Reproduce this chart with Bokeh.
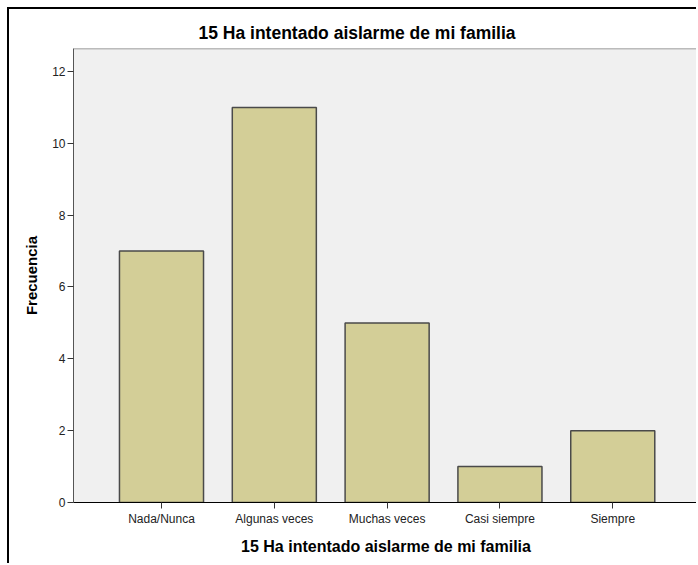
from bokeh.plotting import figure
from bokeh.models import Range1d, FixedTicker, Title, Span
from bokeh.embed import file_html
from bokeh.resources import INLINE

categories = ["Nada/Nunca", "Algunas veces", "Muchas veces", "Casi siempre", "Siempre"]
frecuencia = [7, 11, 5, 1, 2]
y_ticks = [0, 2, 4, 6, 8, 10, 12]
title_text = "15 Ha intentado aislarme de mi familia"

xs = list(range(1, len(categories) + 1))
y_top = 12.64

p = figure(width=689, height=556, output_backend="svg", toolbar_location=None,
           x_range=Range1d(0.22, 5.76), y_range=Range1d(0, y_top),
           min_border_left=64, min_border_right=0, min_border_top=39, min_border_bottom=63)
p.styles = {"margin-left": "7px", "margin-top": "7px",
            "border-left": "2px solid black", "border-top": "2px solid black"}

p.add_layout(Title(text=title_text, align="left", offset=125, text_font="Liberation Sans",
                   text_font_size="17.5px", text_font_style="bold", text_color="black",
                   standoff=11), "above")

p.vbar(x=xs, top=frecuencia, width=0.745, bottom=0,
       fill_color="#d3ce97", line_color="#4a4a4a", line_width=1.5)

p.background_fill_color = "#f0f0f0"
p.border_fill_color = "white"
p.outline_line_color = None
p.add_layout(Span(location=y_top, dimension="width", line_color="#808080", line_width=1.5))
p.xgrid.visible = False
p.ygrid.visible = False

p.xaxis.ticker = FixedTicker(ticks=xs)
p.xaxis.major_label_overrides = {x: c for x, c in zip(xs, categories)}
p.xaxis.minor_tick_line_color = None
p.xaxis.major_tick_in = 0
p.xaxis.major_tick_out = 6
p.xaxis.axis_line_color = "black"
p.xaxis.major_tick_line_color = "#333333"
p.xaxis.major_label_text_font = "Liberation Sans"
p.xaxis.major_label_text_font_size = "12px"
p.xaxis.major_label_text_color = "#222222"
p.xaxis.major_label_standoff = 3
p.xaxis.axis_label = title_text
p.xaxis.axis_label_text_font = "Liberation Sans"
p.xaxis.axis_label_text_font_size = "16px"
p.xaxis.axis_label_text_font_style = "bold"
p.xaxis.axis_label_text_color = "black"
p.xaxis.axis_label_standoff = 9

p.yaxis.ticker = FixedTicker(ticks=y_ticks)
p.yaxis.minor_tick_line_color = None
p.yaxis.major_tick_in = 0
p.yaxis.major_tick_out = 6
p.yaxis.axis_line_color = "#555555"
p.yaxis.major_tick_line_color = "#333333"
p.yaxis.major_label_text_font = "Liberation Sans"
p.yaxis.major_label_text_font_size = "12px"
p.yaxis.major_label_text_color = "#222222"
p.yaxis.major_label_standoff = 2
p.yaxis.axis_label = "Frecuencia"
p.yaxis.axis_label_text_font = "Liberation Sans"
p.yaxis.axis_label_text_font_size = "15px"
p.yaxis.axis_label_text_font_style = "bold"
p.yaxis.axis_label_text_color = "black"
p.yaxis.axis_label_standoff = 9

open("out.html", "w").write(file_html(p, INLINE))
